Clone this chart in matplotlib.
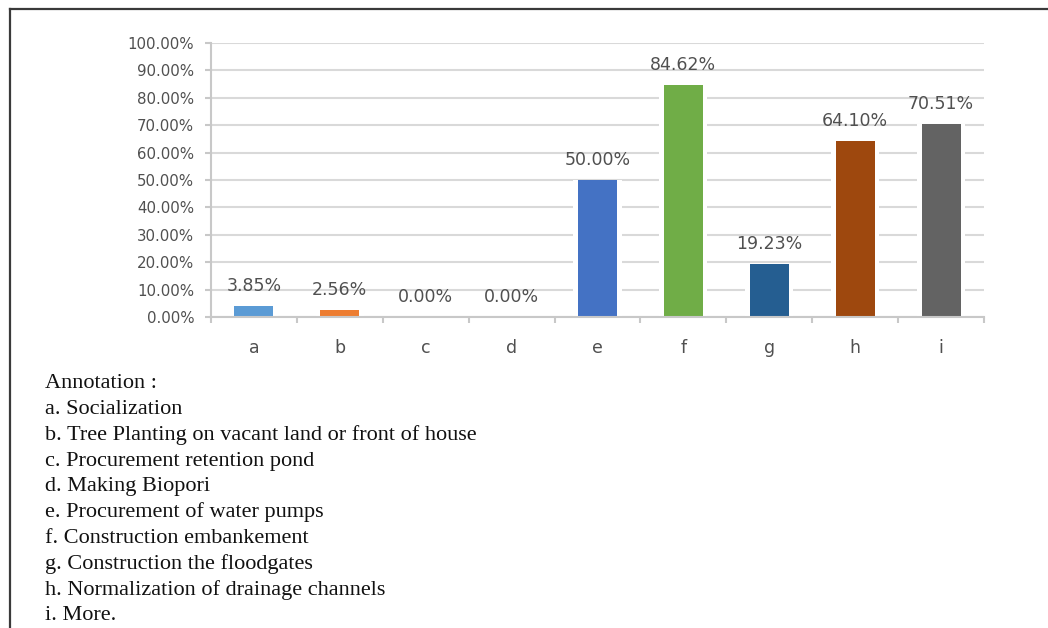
import numpy as np
import matplotlib
matplotlib.use("Agg")
import matplotlib.pyplot as plt
from matplotlib.lines import Line2D
from matplotlib.ticker import FixedLocator

categories = ['a', 'b', 'c', 'd', 'e', 'f', 'g', 'h', 'i']
values = [3.85, 2.56, 0.00, 0.00, 50.00, 84.62, 19.23, 64.10, 70.51]
bar_colors = ['#5B9BD5', '#ED7D31', '#A5A5A5', '#FFC000', '#4472C4',
              '#70AD47', '#255E91', '#9E480E', '#636363']
y_ticks = list(range(0, 101, 10))
annotation_title = 'Annotation :'
annotation_lines = [
    'a. Socialization',
    'b. Tree Planting on vacant land or front of house',
    'c. Procurement retention pond',
    'd. Making Biopori',
    'e. Procurement of water pumps',
    'f. Construction embankement',
    'g. Construction the floodgates',
    'h. Normalization of drainage channels',
    'i. More.',
]

W, H = 1048, 628
fig = plt.figure(figsize=(W / 100, H / 100), dpi=100)
fig.patch.set_facecolor('white')

sans = ['DejaVu Sans']
ax = fig.add_axes([211 / W, 1 - 317 / H, (984 - 211) / W, (317 - 43) / H])
x = np.arange(len(categories))
ax.bar(x, values, width=0.56, color='white', zorder=2)
ax.bar(x, values, width=0.455, color=bar_colors, zorder=3)

for xi, v in zip(x, values):
    ax.annotate(f'{v:.2f}%', (xi, v), xytext=(0, 14.5), textcoords='offset points',
                ha='center', va='center', fontsize=12.5, color='#505050',
                family=sans, zorder=4)

ax.set_xlim(-0.5, len(categories) - 0.5)
ax.set_ylim(0, 100)
ax.set_yticks(y_ticks)
ax.set_yticklabels([f'{t:.2f}%' for t in y_ticks], family=sans, fontsize=10.8, color='#505050')
ax.set_xticks(x)
ax.set_xticklabels(categories, family=sans, fontsize=12.5, color='#505050')
ax.xaxis.set_minor_locator(FixedLocator(np.arange(-0.5, len(categories), 1.0)))

ax.yaxis.grid(True, color='#D9D9D9', lw=1.5)
ax.set_axisbelow(True)
for s in ['top', 'right']:
    ax.spines[s].set_visible(False)
for s in ['left', 'bottom']:
    ax.spines[s].set_color('#C8C8C8')
    ax.spines[s].set_linewidth(1.5)
    ax.spines[s].set_zorder(5)

ax.tick_params(axis='y', length=4, width=1.5, color='#C8C8C8', pad=8)
ax.tick_params(axis='x', which='major', length=0, pad=16)
ax.tick_params(axis='x', which='minor', length=4, width=1.5, color='#C8C8C8')

# annotation text
serif = ['Liberation Serif', 'DejaVu Serif']
y0 = 384
step = 25.7
fs = 16
fig.text(45 / W, 1 - y0 / H, annotation_title, family=serif, fontsize=fs,
         va='center', ha='left', color='#111111')
for i, line in enumerate(annotation_lines):
    fig.text(45 / W, 1 - (y0 + step * (i + 1)) / H, line, family=serif, fontsize=fs,
             va='center', ha='left', color='#111111')

# frame lines (left and top)
fig.add_artist(Line2D([10 / W, 10 / W], [0, 1 - 9 / H], transform=fig.transFigure,
                      color='#3A3A3A', lw=1.6))
fig.add_artist(Line2D([10 / W, 1], [1 - 9 / H, 1 - 9 / H], transform=fig.transFigure,
                      color='#3A3A3A', lw=1.6))

fig.savefig('out.png', dpi=100, facecolor='white')
